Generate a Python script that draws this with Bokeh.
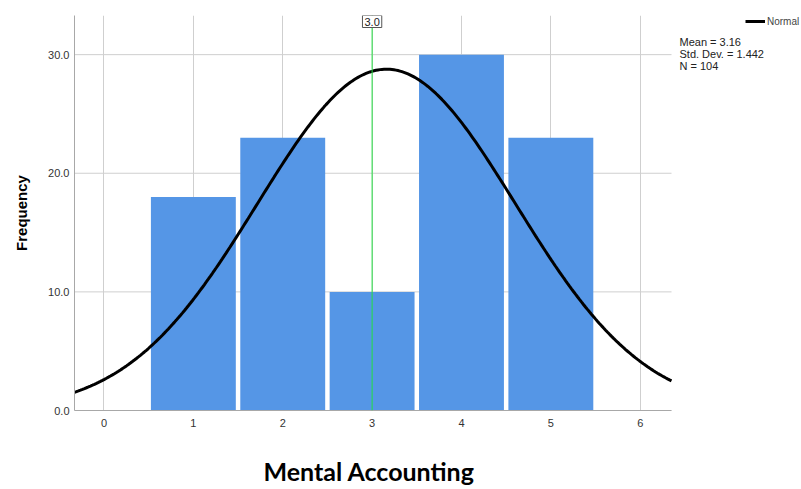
import numpy as np
from bokeh.plotting import figure
from bokeh.models import Span, Label, Legend, LegendItem, Range1d, FixedTicker, CustomJSTickFormatter, Title
from bokeh.embed import file_html
from bokeh.resources import INLINE

# Data
categories = [1, 2, 3, 4, 5]
frequencies = [18, 23, 10, 30, 23]
mean_val = 3.16
std_dev = 1.442
n_total = 104
median_marker = 3.0
x_ticks = [0, 1, 2, 3, 4, 5, 6]
y_ticks = [0, 10, 20, 30]

X0, X1 = -0.33, 6.35
Y0, Y1 = 0, 33.3
PLOT_W, FULL_W, PLOT_H = 597, 727, 395
X_END = X0 + (X1 - X0) * FULL_W / PLOT_W   # frame extends right to hold legend / stats

p = figure(frame_width=FULL_W, frame_height=PLOT_H, output_backend="svg", toolbar_location=None,
           x_range=Range1d(X0, X_END), y_range=Range1d(Y0, Y1),
           min_border_left=74, min_border_right=0, min_border_top=15, min_border_bottom=74)
p.outline_line_color = None

# Grid: vertical lines from the grid, horizontal lines limited to the plot area
p.xgrid.ticker = FixedTicker(ticks=x_ticks)
p.xgrid.grid_line_color = "#cfcfcf"
p.ygrid.grid_line_color = None
hg = p.segment(x0=[X0] * len(y_ticks), x1=[X1] * len(y_ticks), y0=y_ticks, y1=y_ticks,
               line_color="#cfcfcf", line_width=1)
hg.level = "underlay"

# Bars
p.vbar(x=categories, top=frequencies, width=0.95, bottom=0,
       fill_color="#5596e6", line_color=None)

# Normal curve (from the stated mean / sd / N)
xs = np.linspace(X0, X1, 300)
ys = n_total * 1.0 / (std_dev * np.sqrt(2 * np.pi)) * np.exp(-0.5 * ((xs - mean_val) / std_dev) ** 2)
curve = p.line(xs, ys, line_color="black", line_width=3)

# Reference line
p.add_layout(Span(location=median_marker, dimension="height", line_color="#22e040", line_width=1))
p.add_layout(Label(x=median_marker, y=Y1, text=f"{median_marker:.1f}", text_align="center",
                   text_baseline="middle", text_font="Liberation Sans", text_font_size="11px",
                   text_color="#222222", border_line_color="#555555", border_line_width=1,
                   background_fill_color="white", padding=2, y_offset=-6))

# Axes
p.xaxis.ticker = FixedTicker(ticks=x_ticks)
p.yaxis.ticker = FixedTicker(ticks=y_ticks)
p.xaxis.bounds = (X0, X1)
p.yaxis.formatter = CustomJSTickFormatter(code="return tick.toFixed(1);")
for ax in (p.xaxis, p.yaxis):
    ax.axis_line_color = "#a8a8a8"
    ax.axis_line_width = 1
    ax.major_tick_line_color = None
    ax.minor_tick_line_color = None
    ax.major_tick_out = 0
    ax.major_tick_in = 0
    ax.minor_tick_out = 0
    ax.major_label_text_font = "Liberation Sans"
    ax.major_label_text_font_size = "11px"
    ax.major_label_text_color = "#333333"
p.xaxis.major_label_standoff = 8
p.yaxis.major_label_standoff = 5

# X axis title placed under the plot area (not under the widened frame)
xtitle = Title(text="Mental Accounting", align="left", offset=189,
               text_font="Lato", text_font_style="bold", text_font_size="25px",
               text_color="black", standoff=48)
p.add_layout(xtitle, "below")

p.yaxis.axis_label = "Frequency"
p.yaxis.axis_label_text_font = "Liberation Sans"
p.yaxis.axis_label_text_font_style = "bold"
p.yaxis.axis_label_text_font_size = "15px"
p.yaxis.axis_label_text_color = "black"
p.yaxis.axis_label_standoff = 15

# Statistics text
stats = [f"Mean = {mean_val:.2f}", f"Std. Dev. = {std_dev:.3f}", f"N = {n_total}"]
for i, t in enumerate(stats):
    p.add_layout(Label(x=605, y=369 - 12 * i, x_units="screen", y_units="screen", text=t,
                       text_font="Liberation Sans", text_font_size="11px", text_color="#222222",
                       text_baseline="middle"))

# Legend
legend = Legend(items=[LegendItem(label="Normal", renderers=[curve])],
                location=(671, 383), padding=0, margin=0, spacing=0,
                glyph_width=20, glyph_height=12, label_standoff=2,
                label_text_font="Liberation Sans", label_text_font_size="10px",
                label_height=12, border_line_color=None, background_fill_alpha=0)
p.add_layout(legend, "center")

open("out.html", "w").write(file_html(p, INLINE))
